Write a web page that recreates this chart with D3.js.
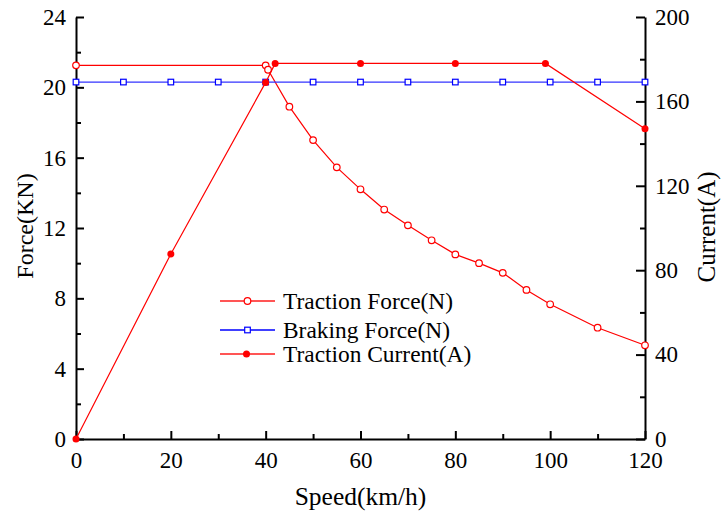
<!DOCTYPE html>
<html>
<head>
<meta charset="utf-8">
<script src="https://cdn.jsdelivr.net/npm/d3@7"></script>
<style>
  body { margin: 0; background: #fff; }
</style>
</head>
<body>
<div id="chart"></div>
<script>
// data
const forceSpeed = [0, 40, 40.5, 45, 50, 55, 60, 65, 70, 75, 80, 85, 90, 95, 100, 110, 120];
const forceValues = [21.25, 21.25, 21.0, 18.9, 17.0, 15.45, 14.2, 13.05, 12.15, 11.3, 10.5, 10.0, 9.45, 8.48, 7.66, 6.33, 5.33];

const brakeSpeed = [0, 10, 20, 30, 40, 50, 60, 70, 80, 90, 100, 110, 120];
const brakeValues = [20.3, 20.3, 20.3, 20.3, 20.3, 20.3, 20.3, 20.3, 20.3, 20.3, 20.3, 20.3, 20.3];

const currentSpeed = [0, 20, 40, 42, 60, 80, 99, 120];
const currentValues = [0, 87.7, 169, 178, 178, 178, 178, 147];

const xTicks = [0, 20, 40, 60, 80, 100, 120];
const yLeftTicks = [0, 4, 8, 12, 16, 20, 24];
const yRightTicks = [0, 40, 80, 120, 160, 200];

const legendLabels = ["Traction Force(N)", "Braking Force(N)", "Traction Current(A)"];

const serif = '"Liberation Serif", "Times New Roman", Times, serif';

// svg setup
let svgWidth = 721;
let svgHeight = 517;
let margin = { top: 17, bottom: 78, left: 76, right: 76 };
let width = svgWidth - margin.left - margin.right;
let height = svgHeight - margin.top - margin.bottom;

let svg = d3.select("#chart")
    .append("svg")
    .attr("width", svgWidth)
    .attr("height", svgHeight);

let chartGroup = svg.append("g")
    .attr("transform", `translate(${margin.left},${margin.top})`);

// scales
let xScale = d3.scaleLinear().domain([0, 120]).range([0, width]);
let yLeft = d3.scaleLinear().domain([0, 24]).range([height, 0]);
let yRight = d3.scaleLinear().domain([0, 200]).range([height, 0]);

// minor ticks first (inside, short)
function minor(axis, values) {
    return axis.tickValues(values).tickFormat("").tickSizeOuter(0);
}
chartGroup.append("g")
    .attr("class", "minor")
    .attr("transform", `translate(0,${height})`)
    .call(minor(d3.axisTop(xScale), d3.range(10, 120, 20)).tickSizeInner(5));
chartGroup.append("g")
    .attr("class", "minor")
    .call(minor(d3.axisRight(yLeft), d3.range(2, 24, 4)).tickSizeInner(5));
chartGroup.append("g")
    .attr("class", "minor")
    .attr("transform", `translate(${width},0)`)
    .call(minor(d3.axisLeft(yRight), d3.range(20, 200, 40)).tickSizeInner(5));

// major axes, ticks pointing inward, labels outside
let xAxis = chartGroup.append("g")
    .attr("transform", `translate(0,${height})`)
    .call(d3.axisBottom(xScale).tickValues(xTicks).tickSizeInner(-8).tickSizeOuter(0).tickPadding(12));
let leftAxis = chartGroup.append("g")
    .call(d3.axisLeft(yLeft).tickValues(yLeftTicks).tickSizeInner(-8).tickSizeOuter(0).tickPadding(10));
let rightAxis = chartGroup.append("g")
    .attr("transform", `translate(${width},0)`)
    .call(d3.axisRight(yRight).tickValues(yRightTicks).tickSizeInner(-9).tickSizeOuter(0).tickPadding(10));

chartGroup.selectAll(".domain, .tick line")
    .attr("stroke", "#000")
    .attr("stroke-width", 2);
chartGroup.selectAll(".minor .domain").remove();
chartGroup.selectAll(".tick text")
    .style("font-family", serif)
    .style("font-size", "23px")
    .attr("fill", "#000");
xAxis.selectAll(".tick text").attr("dy", "0.72em");

// lines
let forceData = forceSpeed.map((s, i) => ({ x: s, y: forceValues[i] }));
let brakeData = brakeSpeed.map((s, i) => ({ x: s, y: brakeValues[i] }));
let currentData = currentSpeed.map((s, i) => ({ x: s, y: currentValues[i] }));

let leftLine = d3.line().x(d => xScale(d.x)).y(d => yLeft(d.y));
let rightLine = d3.line().x(d => xScale(d.x)).y(d => yRight(d.y));

chartGroup.append("path")
    .datum(forceData)
    .attr("d", leftLine)
    .attr("fill", "none")
    .attr("stroke", "#ff0000")
    .attr("stroke-width", 1.2);
chartGroup.selectAll(".forceDot")
    .data(forceData)
    .enter()
    .append("circle")
    .attr("cx", d => xScale(d.x))
    .attr("cy", d => yLeft(d.y))
    .attr("r", 3.3)
    .attr("fill", "#fff")
    .attr("stroke", "#ff0000")
    .attr("stroke-width", 1.2);

chartGroup.append("path")
    .datum(brakeData)
    .attr("d", leftLine)
    .attr("fill", "none")
    .attr("stroke", "#3333ff")
    .attr("stroke-width", 1.2);
chartGroup.selectAll(".brakeDot")
    .data(brakeData)
    .enter()
    .append("rect")
    .attr("x", d => xScale(d.x) - 2.8)
    .attr("y", d => yLeft(d.y) - 2.8)
    .attr("width", 5.6)
    .attr("height", 5.6)
    .attr("fill", "#fff")
    .attr("stroke", "#0000ff")
    .attr("stroke-width", 1.2);

chartGroup.append("path")
    .datum(currentData)
    .attr("d", rightLine)
    .attr("fill", "none")
    .attr("stroke", "#ff0000")
    .attr("stroke-width", 1.2);
chartGroup.selectAll(".currentDot")
    .data(currentData)
    .enter()
    .append("circle")
    .attr("cx", d => xScale(d.x))
    .attr("cy", d => yRight(d.y))
    .attr("r", 3.5)
    .attr("fill", "#ff0000");

// legend
let legendRows = [301, 330, 354];
let legendColors = ["#ff5555", "#0000ff", "#ff5555"];
let legend = svg.append("g");
legendLabels.forEach((label, i) => {
    let y = legendRows[i];
    legend.append("line")
        .attr("x1", 220).attr("x2", 275)
        .attr("y1", y).attr("y2", y)
        .attr("stroke", legendColors[i])
        .attr("stroke-width", i === 1 ? 1.3 : 1.8);
    if (i === 0) {
        legend.append("circle").attr("cx", 247.5).attr("cy", y).attr("r", 3.3)
            .attr("fill", "#fff").attr("stroke", "#ff0000").attr("stroke-width", 1.2);
    } else if (i === 1) {
        legend.append("rect").attr("x", 244.7).attr("y", y - 2.8).attr("width", 5.6).attr("height", 5.6)
            .attr("fill", "#fff").attr("stroke", "#0000ff").attr("stroke-width", 1.2);
    } else {
        legend.append("circle").attr("cx", 246.5).attr("cy", y).attr("r", 3.5).attr("fill", "#ff0000");
    }
    legend.append("text")
        .attr("x", 283)
        .attr("y", y + 8)
        .style("font-family", serif)
        .style("font-size", "23.4px")
        .text(label);
});

// axis titles
svg.append("text")
    .attr("transform", `translate(${margin.left + width / 2}, 505)`)
    .attr("text-anchor", "middle")
    .style("font-family", serif)
    .style("font-size", "25.5px")
    .text("Speed(km/h)");
svg.append("text")
    .attr("transform", `translate(33, 226) rotate(-90)`)
    .attr("text-anchor", "middle")
    .style("font-family", serif)
    .style("font-size", "24px")
    .text("Force(KN)");
svg.append("text")
    .attr("transform", `translate(715, 227) rotate(-90)`)
    .attr("text-anchor", "middle")
    .style("font-family", serif)
    .style("font-size", "25px")
    .text("Current(A)");
</script>
</body>
</html>
